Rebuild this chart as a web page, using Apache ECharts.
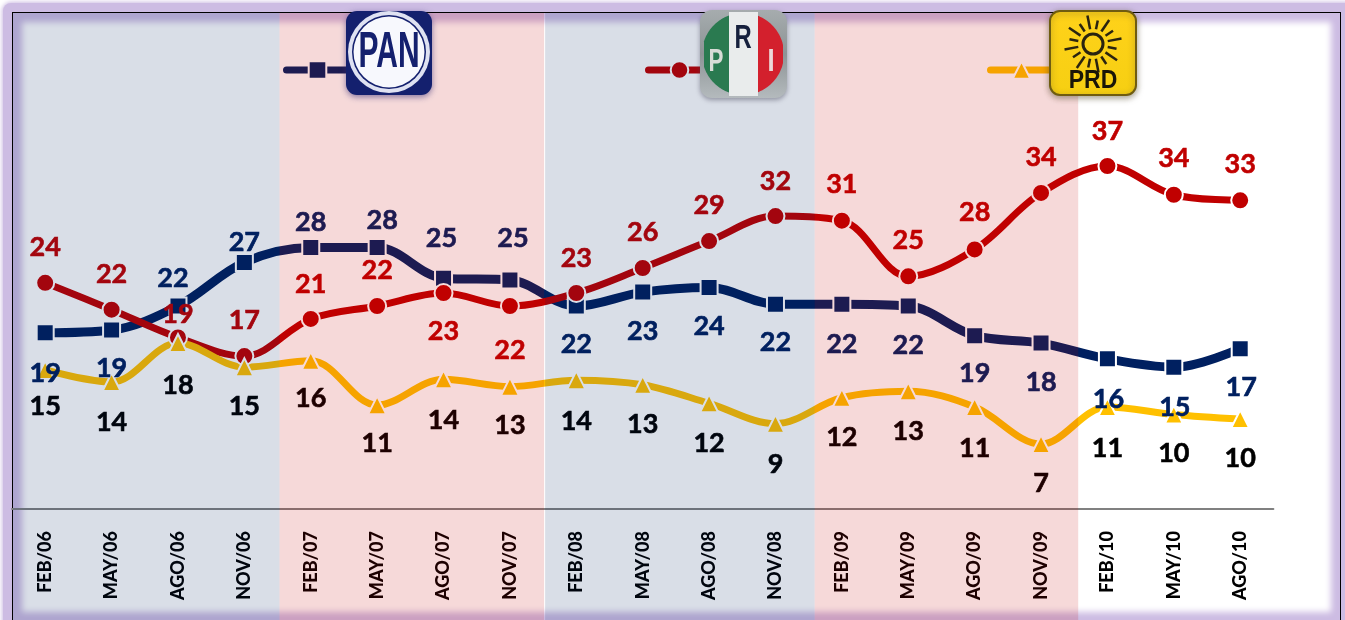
<!DOCTYPE html>
<html>
<head>
<meta charset="utf-8">
<title>PAN PRI PRD</title>
<script src="https://cdn.jsdelivr.net/npm/echarts@6/dist/echarts.min.js"></script>
<style>
html,body{margin:0;padding:0;width:1345px;height:620px;overflow:hidden;background:#fff;}
#outer{position:absolute;left:3px;top:3px;width:1360px;height:640px;background:#cdbce3;border-radius:8px;box-shadow:0 0 4px 1px #cdbce3;}
#frame{position:absolute;left:12px;top:12px;width:1327px;height:608px;border:1px solid #000;background:#fff;box-shadow:inset 0 0 6px 9px #cdbce3;}
#main{position:absolute;left:0;top:0;width:1345px;height:620px;}
</style>
</head>
<body>
<div id="outer"></div>
<div id="frame"></div>
<div id="main"></div>
<script>
var periods=['FEB/06','MAY/06','AGO/06','NOV/06','FEB/07','MAY/07','AGO/07','NOV/07','FEB/08','MAY/08','AGO/08','NOV/08','FEB/09','MAY/09','AGO/09','NOV/09','FEB/10','MAY/10','AGO/10'];

var panValues=[19.0,19.3,21.9,26.6,28.2,28.2,24.9,24.7,21.9,23.4,23.9,22.1,22.1,21.9,18.7,17.9,16.2,15.3,17.3];
var priValues=[24.4,21.5,18.5,16.5,20.5,21.9,23.3,21.9,23.3,26.0,28.9,31.6,31.1,25.1,28.0,34.1,37.0,33.9,33.3];
var prdValues=[15.0,13.7,17.9,15.3,16.0,11.2,14.0,13.2,13.9,13.4,11.4,9.2,12.0,12.7,11.0,7.0,11.0,10.2,9.7];

// etiquetas impresas
var panLabels=[19,19,22,27,28,28,25,25,22,23,24,22,22,22,19,18,16,15,17];
var priLabels=[24,22,19,17,21,22,23,22,23,26,29,32,31,25,28,34,37,34,33];
var prdLabels=[15,14,18,15,16,11,14,13,14,13,12,9,12,13,11,7,11,10,10];

// bandas por anio (indice de categoria inicial y final)
var bandRanges=[[0,3],[4,7],[8,11],[12,15]];
// ajuste en px de los bordes de banda, el original no cae justo entre categorias
var bandNudge=[2,2,2,6,4];

// desplazamiento de cada etiqueta respecto a su marca
var panLabelDy=[40,38,-28,-20,-25,-27,-40,-42,38,39,39,38,40,39,38,39,40,40,39];
var panLabelDx=[0,0,-5,0,0,5,-2,3,0,0,0,0,0,0,0,0,1,1,1];
var priLabelDy=[-36,-35,-23,-36,-35,-36,38,44,-35,-36,-36,-35,-36,-36,-37,-36,-35,-36,-36];
var prdLabelDy=[36,40,42,39,38,38,41,39,41,40,40,41,40,40,41,39,41,39,39];

var FONT='Lato';
var LOGO_FONT='"Liberation Sans"';
var NAVY='#002060',RED='#c00000',YEL='#ffc000';

function makeData(values,labels,dy,dx){
    var out=[];
    for(var i=0;i<values.length;i++){
        out.push({
            value:values[i],
            label:{formatter:String(labels[i]),offset:[dx?dx[i]:0,dy[i]]}
        });
    }
    return out;
}

function lineSeries(name,values,labels,dy,dx,color,symbol,size,width,textColor){
    return {
        name:name,
        type:'line',
        smooth:0.35,
        symbol:symbol,
        symbolSize:size,
        showAllSymbol:true,
        z:3,
        lineStyle:{color:color,width:width,cap:'round'},
        itemStyle:{color:color,borderColor:'#fff',borderWidth:2,opacity:1},
        label:{show:true,position:'inside',color:textColor,fontFamily:FONT,fontWeight:'bold',fontSize:27,textBorderColor:textColor,textBorderWidth:0.6},
        data:makeData(values,labels,dy,dx)
    };
}

// segmento de circulo entre x0 y x1, para el logo del PRI
function circleSeg(cx,cy,r,x0,x1){
    var pts=[],n=40,i,x;
    for(i=0;i<=n;i++){
        x=x0+(x1-x0)*i/n;
        pts.push([x,cy-Math.sqrt(Math.max(0,r*r-(x-cx)*(x-cx)))]);
    }
    for(i=n;i>=0;i--){
        x=x0+(x1-x0)*i/n;
        pts.push([x,cy+Math.sqrt(Math.max(0,r*r-(x-cx)*(x-cx)))]);
    }
    return pts;
}

function logoText(t,x,y,size,color,sx){
    return {type:'text',z:52,x:x,y:y,scaleX:sx||1,style:{text:t,fill:color,font:'bold '+size+'px '+LOGO_FONT,textAlign:'center',textVerticalAlign:'middle'}};
}

function panLogo(){
    return [
        {type:'rect',z:50,shape:{x:346,y:11,width:86,height:84,r:11},style:{fill:'#14206e',shadowBlur:6,shadowColor:'rgba(60,50,120,.6)',shadowOffsetY:2}},
        {type:'circle',z:51,shape:{cx:389,cy:52,r:41},style:{fill:'#dfe2f2'}},
        {type:'circle',z:51,shape:{cx:389,cy:52,r:37},style:{fill:'#14206e'}},
        {type:'circle',z:51,shape:{cx:389,cy:52,r:35.5},style:{fill:'#f7f8fd'}},
        logoText('PAN',389,53,50,'#14206e',0.6)
    ];
}

function priLogo(){
    return [
        {type:'rect',z:50,shape:{x:700,y:10,width:87,height:88,r:12},style:{fill:new echarts.graphic.LinearGradient(0,0,0,1,[{offset:0,color:'#a6acae'},{offset:.5,color:'#8d9496'},{offset:1,color:'#b4babd'}]),shadowBlur:5,shadowColor:'rgba(70,70,90,.5)',shadowOffsetY:2}},
        {type:'polygon',z:51,shape:{points:circleSeg(743,54,41,704,729)},style:{fill:'#2a7a50'}},
        {type:'rect',z:51,shape:{x:729,y:12,width:29,height:84},style:{fill:'#e9ecec'}},
        {type:'polygon',z:51,shape:{points:circleSeg(743,54,41,758,783)},style:{fill:'#d3202d'}},
        logoText('P',716,62,32,'#d8dcd6',0.7),
        logoText('R',743,39,34,'#15203c',0.7),
        logoText('I',771,62,32,'#ecd8d8',0.8)
    ];
}

function prdLogo(){
    var out=[
        {type:'rect',z:50,shape:{x:1050,y:11,width:86,height:84,r:10},style:{fill:new echarts.graphic.LinearGradient(0,0,0,1,[{offset:0,color:'#ffd21a'},{offset:1,color:'#f6cf12'}]),stroke:'#6f5c10',lineWidth:2,shadowBlur:6,shadowColor:'rgba(80,70,40,.5)',shadowOffsetY:2}},
        {type:'circle',z:51,shape:{cx:1093,cy:44,r:10},style:{fill:'none',stroke:'#2a2410',lineWidth:3}}
    ];
    for(var i=0;i<16;i++){
        var a=i*Math.PI/8+0.2,r1=15,r2=i%2?29:24;
        out.push({type:'line',z:51,shape:{x1:1093+r1*Math.cos(a),y1:44+r1*Math.sin(a),x2:1093+r2*Math.cos(a),y2:44+r2*Math.sin(a)},style:{stroke:'#2a2410',lineWidth:2.5}});
    }
    out.push(logoText('PRD',1093,81,25,'#1a1608',0.92));
    return out;
}

function makeLegend(name,left){
    return {
        data:[name],left:left,top:59,padding:0,itemWidth:62,itemHeight:22,
        selectedMode:false,z:4,
        lineStyle:{width:7,cap:'round'},
        formatter:function(){return '';}
    };
}

var chart=echarts.init(document.getElementById('main'),null,{renderer:'canvas'});
chart.setOption({
    backgroundColor:'transparent',
    animation:false,
    grid:{left:12,right:71.6,top:45.5,bottom:111},
    legend:[makeLegend('PAN',283),makeLegend('PRI',645),makeLegend('PRD',987)],
    xAxis:{
        type:'category',
        data:periods,
        boundaryGap:true,
        axisLine:{lineStyle:{color:'#808080',width:2}},
        axisTick:{show:false},
        axisLabel:{interval:0,rotate:90,margin:22,color:'#000',fontFamily:FONT,fontWeight:900,fontSize:18}
    },
    yAxis:{type:'value',min:0,max:50,show:false,splitLine:{show:false}},
    series:[
        lineSeries('PAN',panValues,panLabels,panLabelDy,panLabelDx,NAVY,'rect',17,9,NAVY),
        lineSeries('PRI',priValues,priLabels,priLabelDy,null,RED,'circle',18,7,RED),
        lineSeries('PRD',prdValues,prdLabels,prdLabelDy,null,YEL,'triangle',18,7,'#000'),
        {
            // las bandas van encima de las lineas, por eso las oscurecen
            type:'custom',
            z:10,
            silent:true,
            clip:false,
            data:bandRanges,
            encode:{x:0,y:-1},
            renderItem:function(params,api){
                var half=api.size([1,0])[0]/2;
                var i=params.dataIndex;
                var x0=api.coord([api.value(0),0])[0]-half+bandNudge[i];
                var x1=api.coord([api.value(1),0])[0]+half+bandNudge[i+1];
                if(i==0){x0=13;}
                return {
                    type:'rect',
                    shape:{x:x0,y:13,width:x1-x0-(i==1?1:0),height:607},
                    style:{fill:i%2?'rgba(192,0,0,0.15)':'rgba(0,32,96,0.15)'}
                };
            }
        }
    ],
    graphic:{elements:[].concat(panLogo(),priLogo(),prdLogo())}
});
</script>
</body>
</html>
